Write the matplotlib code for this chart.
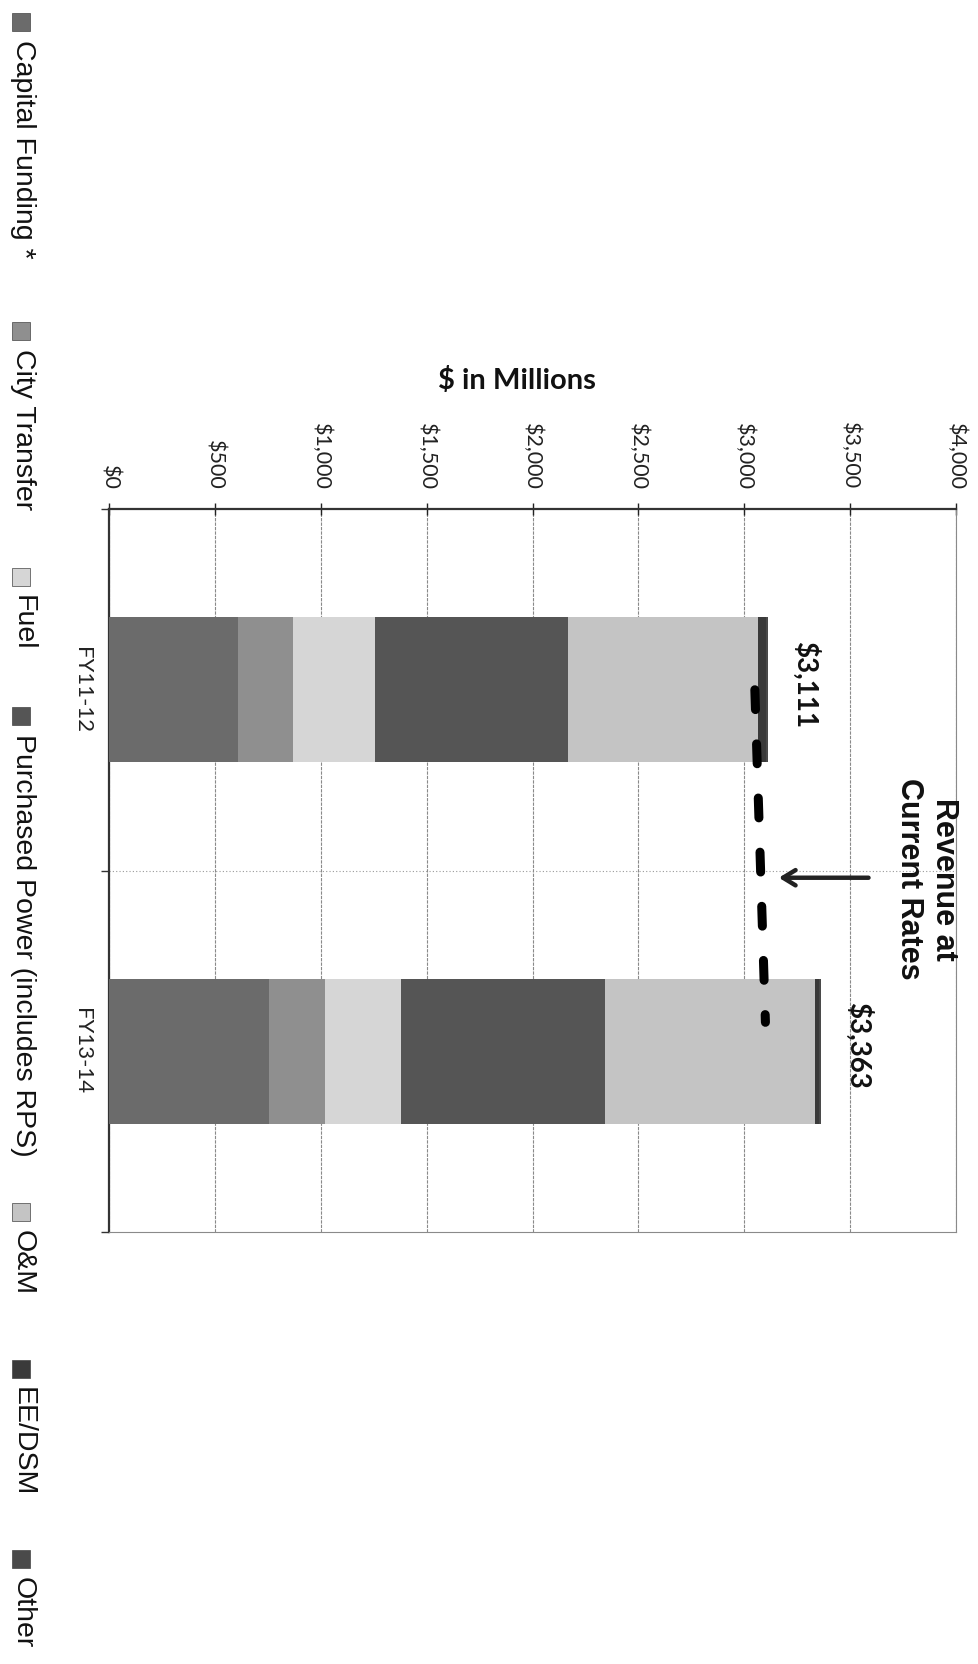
import matplotlib
matplotlib.use("Agg")
import matplotlib.pyplot as plt
from matplotlib import font_manager
from matplotlib.patches import Rectangle

# data (values in $ millions)
categories = ["FY11-12", "FY13-14"]
series_names = ["Capital Funding *", "City Transfer", "Fuel",
                "Purchased Power (includes RPS)", "O&M", "EE/DSM", "Other"]
capital_funding = [610, 755]
city_transfer = [260, 264]
fuel = [385, 360]
purchased_power = [915, 965]
o_and_m = [896, 991]
ee_dsm = [35, 18]
other = [10, 10]
totals = [3111, 3363]

# dashed "revenue at current rates" line
revenue_pos = [0, 0.92]
revenue_current = [3050, 3100]

value_ticks = list(range(0, 4001, 500))

colors = ["#6b6b6b", "#8f8f8f", "#d6d6d6", "#555555", "#c4c4c4", "#3a3a3a", "#4a4a4a"]

installed = {f.name for f in font_manager.fontManager.ttflist}
plt.rcParams["font.family"] = ["Lato", "DejaVu Sans"]
LEGEND_FONT = ["Liberation Sans", "DejaVu Sans"]
if "Liberation Sans Narrow" in installed:
    NOTE_FONT, NOTE_SIZE = ["Liberation Sans Narrow", "DejaVu Sans"], 26
else:
    NOTE_FONT, NOTE_SIZE = ["Liberation Sans", "DejaVu Sans"], 22

W, H = 979, 1664
fig = plt.figure(figsize=(W / 100, H / 100), dpi=100)
fig.patch.set_facecolor("white")

# chart is drawn rotated: value axis runs left->right, categories top->bottom
x0, x1 = 109, 956
y0, y1 = 509, 1232
ax = fig.add_axes([x0 / W, 1 - y1 / H, (x1 - x0) / W, (y1 - y0) / H])

series = [capital_funding, city_transfer, fuel, purchased_power, o_and_m, ee_dsm, other]
ypos = list(range(len(categories)))
left = [0] * len(categories)
for vals, col, name in zip(series, colors, series_names):
    ax.barh(ypos, vals, left=left, height=0.4, color=col, edgecolor="none", label=name, zorder=3)
    left = [a + b for a, b in zip(left, vals)]

ax.set_xlim(0, 4000)
ax.set_ylim(1.5, -0.5)

ax.xaxis.tick_top()
ax.set_xticks(value_ticks, ["${:,}".format(v) for v in value_ticks])
ax.tick_params(axis="x", rotation=-90, labelsize=15.5, colors="#222222", direction="inout",
               length=8, width=1, pad=10)
ax.set_yticks(ypos, categories)
ax.tick_params(axis="y", rotation=-90, labelsize=16, colors="#222222", length=0, pad=12)
for lab in ax.get_yticklabels():
    lab.set_va("center")
ax.set_yticks([-0.5, 0.5, 1.5], minor=True)
ax.tick_params(axis="y", which="minor", length=6, width=1, direction="out", color="#333333")

ax.grid(axis="x", color="#8a8a8a", lw=0.8, ls=(0, (3, 1)), zorder=0)
ax.axhline(0.5, color="#9a9a9a", lw=0.8, ls=(0, (1, 2)), zorder=1)

for side in ["top", "left"]:
    ax.spines[side].set_color("#333333")
    ax.spines[side].set_linewidth(1.6)
for side in ["right", "bottom"]:
    ax.spines[side].set_color("#8a8a8a")
    ax.spines[side].set_linewidth(0.8)
    ax.spines[side].set_linestyle((0, (2, 1)))

# total labels
for i, t in enumerate(totals):
    ax.annotate("${:,}".format(t), xy=(t, i), xytext=(27, 4), textcoords="offset points",
                rotation=-90, ha="center", va="center", fontsize=20, fontweight="bold",
                color="#111111")

# revenue at current rates
ax.plot(revenue_current, revenue_pos, color="black", lw=6.5, dashes=(2.2, 3.8),
        dash_capstyle="round", solid_capstyle="round", zorder=5)
ax.annotate("", xy=(3150, 0.52), xytext=(3600, 0.52),
            arrowprops=dict(arrowstyle="->,head_length=0.9,head_width=0.55", lw=3.2, color="#222222"),
            zorder=6)
ax.text(3861, 0.524, "Revenue at\nCurrent Rates", rotation=-90, ha="center", va="center",
        family=NOTE_FONT, fontsize=NOTE_SIZE, fontweight="bold", color="#111111",
        linespacing=1.2, zorder=6)

fig.text(517 / W, 1 - 380 / H, "$ in Millions", ha="center", va="center",
         fontsize=21, fontweight="bold", color="#111111")

# legend, laid out as a single column down the left edge
legend_top = [13, 322, 568, 707, 1203, 1360, 1550]
for name, col, ty in zip(series_names, colors, legend_top):
    fig.add_artist(Rectangle((12 / W, 1 - (ty + 18) / H), 18 / W, 18 / H,
                             transform=fig.transFigure, facecolor=col, edgecolor="#444444", lw=0.5))
    fig.text(23 / W, 1 - (ty + 27) / H, name, rotation=-90, ha="center", va="top",
             family=LEGEND_FONT, fontsize=20.5, color="#111111")

fig.savefig("out.png", dpi=100, facecolor="white")
